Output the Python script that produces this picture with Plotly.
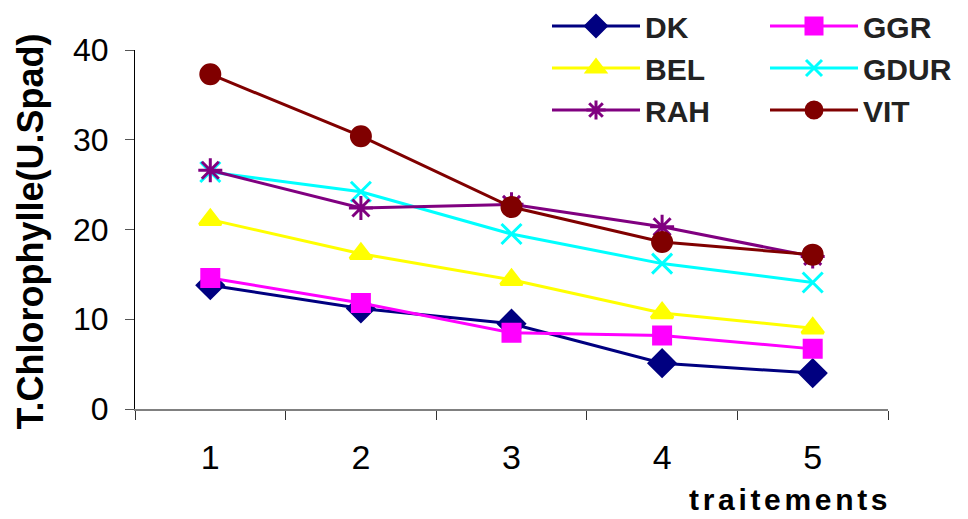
import plotly.graph_objects as go

traitements = ["1", "2", "3", "4", "5"]
DK = [13.8, 11.2, 9.5, 5.1, 4.0]
GGR = [14.6, 11.8, 8.5, 8.2, 6.7]
BEL = [21.1, 17.3, 14.4, 10.7, 9.0]
GDUR = [26.4, 24.2, 19.5, 16.2, 14.1]
RAH = [26.6, 22.4, 22.8, 20.3, 17.0]
VIT = [37.3, 30.4, 22.5, 18.6, 17.2]

series = [
    ("DK", DK, "#000080", "diamond", 20, "legend"),
    ("GGR", GGR, "#FF00FF", "square", 17, "legend2"),
    ("BEL", BEL, "#FFFF00", "triangle-up", 19, "legend"),
    ("GDUR", GDUR, "#00FFFF", "x-thin-open", 20, "legend2"),
    ("RAH", RAH, "#800080", "asterisk-open", 20, "legend"),
    ("VIT", VIT, "#800000", "circle", 19, "legend2"),
]

fig = go.Figure()
for name, vals, col, sym, sz, leg in series:
    fig.add_trace(go.Scatter(
        x=traitements, y=vals, name=name, mode="lines+markers", legend=leg,
        line=dict(color=col, width=3),
        marker=dict(symbol=sym, size=sz, color=col, line=dict(color=col, width=3)),
    ))

FONT = "Liberation Sans, Arial, sans-serif"
legfont = dict(family=FONT, size=30, color="#222222", weight="bold")
sp = "<span style='font-size:22px'>\u2006</span>"
xtitle = sp.join(list("traitements"))

fig.update_layout(
    width=968, height=519,
    margin=dict(l=134.5, r=80, t=50, b=110, autoexpand=False),
    paper_bgcolor="white", plot_bgcolor="white",
    font=dict(family=FONT, size=30, color="black"),
    showlegend=True,
    legend=dict(
        orientation="v", x=547 / 968, y=1.005, xanchor="left", yanchor="top",
        xref="container", yref="container", itemwidth=88,
        font=legfont, bgcolor="rgba(0,0,0,0)", tracegroupgap=0,
    ),
    legend2=dict(
        orientation="v", x=765 / 968, y=1.005, xanchor="left", yanchor="top",
        xref="container", yref="container", itemwidth=88,
        font=legfont, bgcolor="rgba(0,0,0,0)", tracegroupgap=0,
    ),
    xaxis=dict(
        type="category", range=[-0.5, 4.5], tickson="boundaries", ticks="outside", ticklen=9,
        tickcolor="#333333", showline=True, linecolor="#808080", linewidth=2,
        showgrid=False, zeroline=False, ticklabelstandoff=17,
        tickfont=dict(size=34, color="black"),
    ),
    yaxis=dict(
        range=[0, 40], tickvals=[0, 10, 20, 30, 40], ticks="outside", ticklen=9,
        tickcolor="#555555", showline=True, linecolor="black", linewidth=1,
        showgrid=False, zeroline=False, ticklabelstandoff=10,
        tickfont=dict(size=32, color="black"),
    ),
    annotations=[
        dict(text="T.Chlorophylle(U.Spad)", textangle=-90, xref="paper", yref="paper",
             x=(29 - 134.5) / 753.5, y=(409 - 232) / 359, xanchor="center", yanchor="middle",
             showarrow=False, font=dict(family=FONT, size=36, color="black", weight="bold")),
        dict(text=xtitle,
             xref="paper", yref="paper",
             x=(788 - 134.5) / 753.5, y=(409 - 499) / 359, xanchor="center", yanchor="middle",
             showarrow=False, font=dict(family=FONT, size=30, color="black", weight="bold")),
    ],
)

fig.write_html("out.html")
